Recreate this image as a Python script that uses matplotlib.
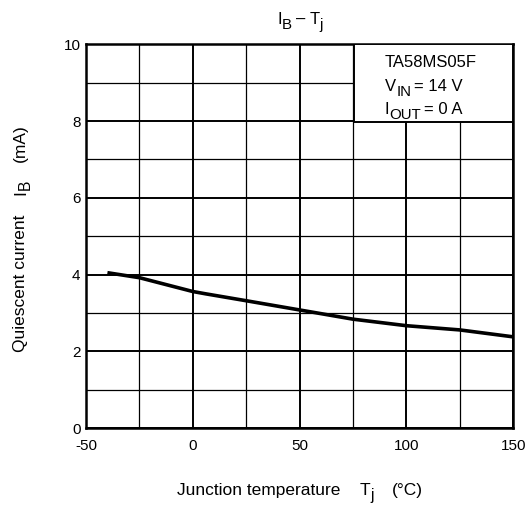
import numpy as np
import matplotlib.pyplot as plt
from matplotlib.patches import Rectangle
from matplotlib.transforms import IdentityTransform

plt.rcParams['font.family'] = ['Liberation Sans', 'DejaVu Sans']
plt.rcParams['axes.unicode_minus'] = False

# Data
temp = [-40, -25, 0, 6, 25, 50, 75, 100, 125, 150]
current = [4.05, 3.92, 3.56, 3.50, 3.32, 3.08, 2.84, 2.67, 2.56, 2.38]

x_ticks = [-50, 0, 50, 100, 150]
y_ticks = [0, 2, 4, 6, 8, 10]

fig = plt.figure(figsize=(5.28, 5.08), dpi=100)
ax = fig.add_axes([0.163, 0.157, 0.809, 0.756])

ax.plot(temp, current, color='black', lw=2.6, solid_capstyle='butt', zorder=4)

ax.set_xlim(-50, 150)
ax.set_ylim(0, 10)
ax.set_xticks(x_ticks)
ax.set_yticks(y_ticks)
ax.set_xticks(np.arange(-50, 151, 25), minor=True)
ax.set_yticks(np.arange(0, 11, 1), minor=True)
ax.grid(which='major', color='black', lw=1.4)
ax.grid(which='minor', color='black', lw=0.9)
ax.tick_params(which='both', length=0, labelsize=11)
ax.tick_params(axis='x', pad=8)
ax.tick_params(axis='y', pad=4)
for s in ax.spines.values():
    s.set_linewidth(1.8)

ax.add_patch(Rectangle((0.628, 0.797), 0.372, 0.203, transform=ax.transAxes,
                       facecolor='white', edgecolor='black', lw=1.4, zorder=5))

rend = fig.canvas.get_renderer()


def rich(x, y, parts, size, vertical=False, center=True):
    # parts: (text, is_sub) or a number = gap in px; x, y = baseline start / centre in pixels
    em = size * 100 / 72
    items = []
    total = 0
    for p in parts:
        if not isinstance(p, tuple):
            items.append((None, p))
            total += p
            continue
        txt, is_sub = p
        fs = size * 0.9 if is_sub else size
        t = fig.text(0, 0, txt, fontsize=fs, transform=IdentityTransform(),
                     rotation=90 if vertical else 0, rotation_mode='anchor',
                     ha='left', va='baseline', zorder=6)
        bb = t.get_window_extent(renderer=rend)
        w = bb.height if vertical else bb.width
        items.append((t, w, is_sub))
        total += w
    pos = -total / 2 if center else 0
    for it in items:
        if it[0] is None:
            pos += it[1]
            continue
        t, w, is_sub = it
        drop = 0.3 * em if is_sub else 0
        if vertical:
            t.set_position((x + drop, y + pos))
        else:
            t.set_position((x + pos, y - drop))
        pos += w


H = 508
# title
rich(300, H - 24, [('I', False), ('B', True), 4, ('–', False), 4, ('T', False), ('j', True)], 12)
# x label
rich(300, H - 495, [('Junction temperature', False), 20, ('T', False), ('j', True), 18, ('(°C)', False)], 12.5)
# y label
rich(25, H - 238, [('Quiescent current', False), 20, ('I', False), ('B', True), 18, ('(mA)', False)], 12.5,
     vertical=True)
# condition box
rich(385, H - 67, [('TA58MS05F', False)], 12, center=False)
rich(385, H - 90.7, [('V', False), ('IN', True), 3, ('= 14 V', False)], 12, center=False)
rich(385, H - 114.4, [('I', False), ('OUT', True), 3, ('= 0 A', False)], 12, center=False)

fig.savefig('out.png', dpi=100, facecolor='white')
